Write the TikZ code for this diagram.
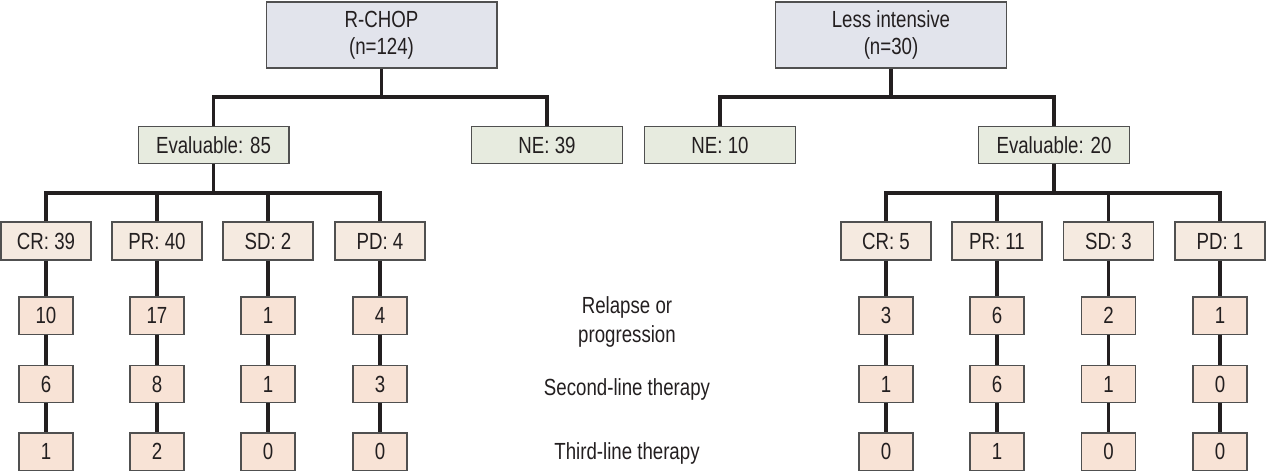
\documentclass[tikz,border=0pt]{standalone}
\usepackage{fontspec}
\setmainfont{Liberation Sans}[FakeStretch=0.8]
\definecolor{txt}{HTML}{231F20}
\definecolor{topfill}{HTML}{E2E4EC}
\definecolor{evalfill}{HTML}{E7EBDF}
\definecolor{respfill}{HTML}{F5EAE0}
\definecolor{numfill}{HTML}{F8E3D6}
\definecolor{bord}{HTML}{505050}
\tikzset{
  box/.style={draw=bord, line width=1pt, text=txt, inner sep=0pt, align=center,
    font=\fontsize{17.5}{20.5}\selectfont},
  topbox/.style={box, fill=topfill, minimum width=173pt, minimum height=49.5pt},
  evbox/.style={box, fill=evalfill, minimum width=113pt, minimum height=28pt},
  respbox/.style={box, fill=respfill, minimum width=67.5pt, minimum height=28.5pt},
  numbox/.style={box, fill=numfill, minimum width=40.5pt, minimum height=28pt},
  conn/.style={line width=2.4pt, draw=txt},
  lab/.style={text=txt, align=center, font=\fontsize{17.5}{21.5}\selectfont, inner sep=0pt}
}
\begin{document}
\begin{tikzpicture}[x=0.75pt,y=-0.75pt]
\useasboundingbox (0,0) rectangle (1268,472);
% level 1
\node[topbox] (rchop) at (381.5,35) {R-CHOP\\(n=124)};
\node[topbox] (less) at (891,35) {Less intensive\\(n=30)};
% level 2
\node[evbox] (ev85) at (213.5,145) {Evaluable: 85};
\node[evbox] (ne39) at (547,145) {NE: 39};
\node[evbox] (ne10) at (720,145) {NE: 10};
\node[evbox] (ev20) at (1054,145) {Evaluable: 20};
% level 3
\node[respbox] (cra) at (46,241) {CR: 39};
\node[respbox] (pra) at (157,241) {PR: 40};
\node[respbox] (sda) at (268,241) {SD: 2};
\node[respbox] (pda) at (380,241) {PD: 4};
\node[respbox] (crb) at (886,241) {CR: 5};
\node[respbox] (prb) at (997,241) {PR: 11};
\node[respbox] (sdb) at (1108.5,241) {SD: 3};
\node[respbox] (pdb) at (1220,241) {PD: 1};
% number rows
\foreach \nm/\x/\a/\b/\c in {cra/46/10/6/1, pra/157/17/8/2, sda/268/1/1/0, pda/380/4/3/0,
    crb/886/3/1/0, prb/997/6/6/1, sdb/1108.5/2/1/0, pdb/1220/1/0/0}{
  \node[numbox] (\nm1) at (\x,315.5) {\a};
  \node[numbox] (\nm2) at (\x,384) {\b};
  \node[numbox] (\nm3) at (\x,451.5) {\c};
  \draw[conn] (\nm.south) -- (\nm1.north);
  \draw[conn] (\nm1.south) -- (\nm2.north);
  \draw[conn] (\nm2.south) -- (\nm3.north);
}
% junctions
\coordinate (j1) at (381.5,97);
\coordinate (j2) at (891,97);
\coordinate (j3) at (213.5,193);
\coordinate (j4) at (1054,193);
\draw[conn] (rchop.south) -- (j1);
\draw[conn] (ev85.north) |- (j1);
\draw[conn] (ne39.north) |- (j1);
\draw[conn] (less.south) -- (j2);
\draw[conn] (ne10.north) |- (j2);
\draw[conn] (ev20.north) |- (j2);
\draw[conn] (ev85.south) -- (j3);
\draw[conn] (cra.north) |- (j3);
\draw[conn] (pra.north) |- (j3);
\draw[conn] (sda.north) |- (j3);
\draw[conn] (pda.north) |- (j3);
\draw[conn] (ev20.south) -- (j4);
\draw[conn] (crb.north) |- (j4);
\draw[conn] (prb.north) |- (j4);
\draw[conn] (sdb.north) |- (j4);
\draw[conn] (pdb.north) |- (j4);
% row labels
\node[lab] (l1) at (627,322) {Relapse or\\progression};
\node[lab] (l2) at (627,389) {Second-line therapy};
\node[lab] (l3) at (627,453) {Third-line therapy};
\end{tikzpicture}
\end{document}
